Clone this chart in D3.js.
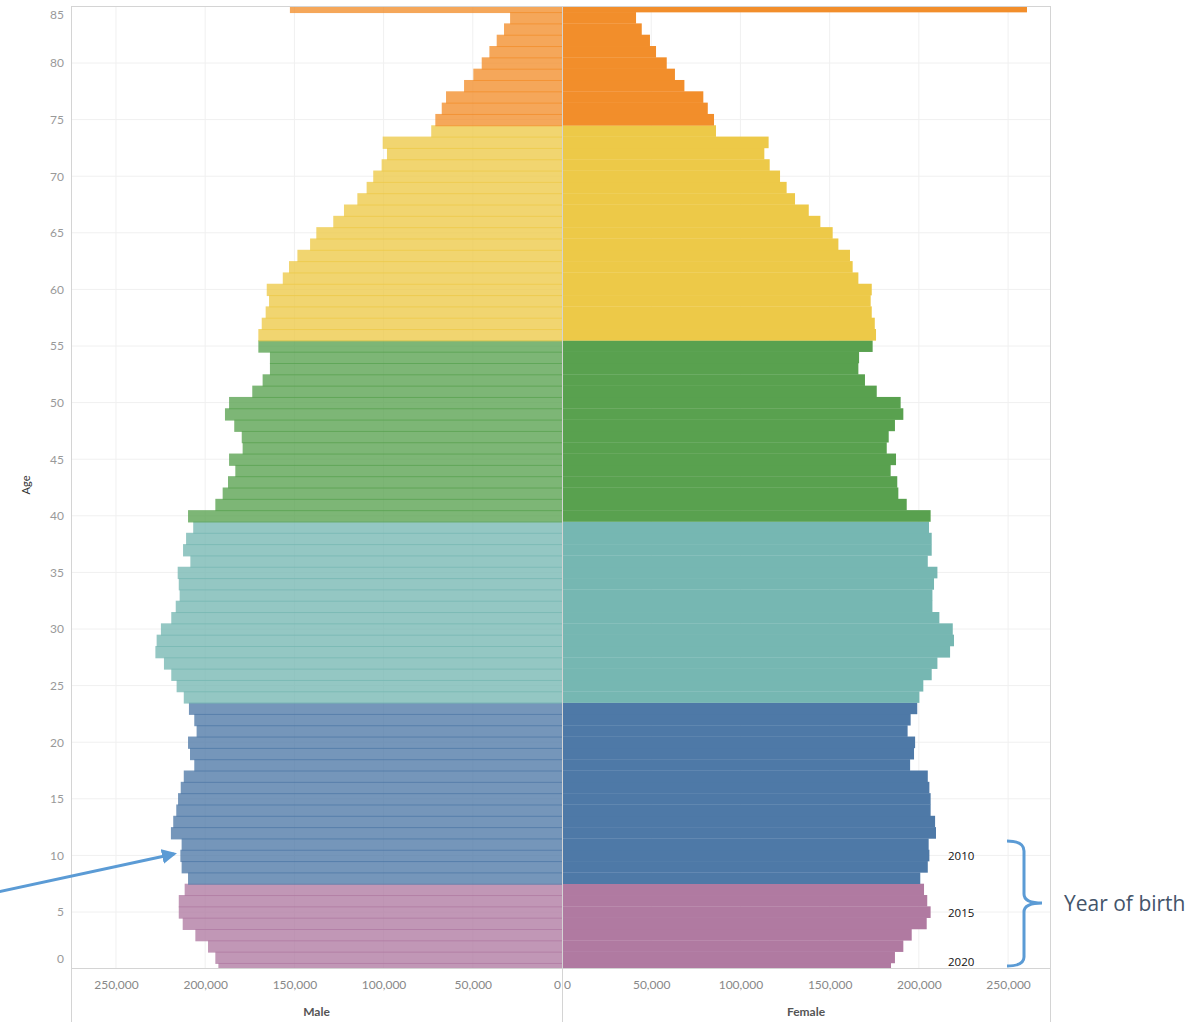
<!DOCTYPE html>
<html>
<head>
<meta charset="utf-8">
<script src="https://cdn.jsdelivr.net/npm/d3@7"></script>
<style>
  html, body { margin: 0; padding: 0; background: #fff; }
  svg { display: block; }
</style>
</head>
<body>
<svg id="chart" width="1201" height="1022"></svg>
<script>
// ---------- DATA ----------
const ages = d3.range(0, 86);
const maleValues = [
  192600,194300,198400,205500,212600,214800,214800,211500,209600,213200,
  213900,213200,219200,217900,216200,215200,213700,212000,206100,208500,
  209600,204800,206100,209100,212000,216000,219000,223100,227900,227200,
  224800,219000,216500,214300,214800,215400,208300,212400,210700,206700,
  209600,194300,190200,187200,183100,186600,179000,179500,183700,188900,
  186600,173600,167800,163700,163700,170200,170200,168300,166100,164200,
  165500,156500,153000,148300,141200,137700,128200,122200,114700,109500,
  105800,101100,98100,100500,73300,71000,67400,65000,54900,49700,
  45000,40700,36600,32500,29100,152500
];
const femaleValues = [
  184400,186600,191300,196000,204400,206600,204700,202900,200800,205000,
  205900,205500,209600,209100,206600,206600,205900,205000,195100,197300,
  197900,193700,195400,199100,200300,202500,207200,210400,217500,219700,
  219000,211500,207600,207600,208500,210400,205000,207200,207200,205700,
  206600,193200,188500,187900,184200,187200,182000,183100,186600,191300,
  189800,176400,169800,166100,166500,174100,176000,175300,173600,173000,
  173600,166100,162900,161400,154900,151700,144800,138300,130600,125900,
  122200,116400,113400,115800,86300,85200,81700,79200,68600,63300,
  58700,52700,49300,44700,41500,260600
];
// age groups (first age of each group) and their colours
const groupStarts = [0, 8, 24, 40, 56, 75];
const groupColors = ["#b07aa1", "#4e79a7", "#76b7b2", "#59a14f", "#edc948", "#f28e2b"];
const xTicks = [0, 50000, 100000, 150000, 200000, 250000];
const yTicks = d3.range(0, 86, 5);
const birthYearLabels = ["2010", "2015", "2020"];
const birthYearAges = [10, 5, 0];

// ---------- LAYOUT ----------
const svg = d3.select("#chart");
const pLeft = 71, pCenter = 562, pRight = 1050, pTop = 6.4, pBottom = 968.6, axisBottom = 1022;

const xMale = d3.scaleLinear().domain([0, 275200]).range([pCenter, pLeft]);
const xFemale = d3.scaleLinear().domain([0, 273500]).range([pCenter, pRight]);
const y = d3.scaleLinear().domain([0, 85]).range([pBottom, pTop]);
const band = Math.abs(y(0) - y(1));

const colorFor = a => groupColors[d3.bisectRight(groupStarts, a) - 1];

svg.append("defs").append("clipPath").attr("id", "plotClip")
  .append("rect").attr("x", pLeft).attr("y", pTop).attr("width", pRight - pLeft).attr("height", pBottom - pTop);

// gridlines
const grid = svg.append("g");
grid.selectAll(".hg").data(yTicks.filter(t => t > 0 && t < 85)).join("line")
  .attr("x1", pLeft).attr("x2", pRight).attr("y1", d => y(d)).attr("y2", d => y(d))
  .attr("stroke", "#f0f0f0").attr("stroke-width", 1);
grid.selectAll(".vgm").data(xTicks.filter(t => t > 0)).join("line")
  .attr("x1", d => xMale(d)).attr("x2", d => xMale(d)).attr("y1", pTop).attr("y2", pBottom)
  .attr("stroke", "#f0f0f0").attr("stroke-width", 1);
grid.selectAll(".vgf").data(xTicks.filter(t => t > 0)).join("line")
  .attr("x1", d => xFemale(d)).attr("x2", d => xFemale(d)).attr("y1", pTop).attr("y2", pBottom)
  .attr("stroke", "#f0f0f0").attr("stroke-width", 1);

// bars
const bars = svg.append("g").attr("clip-path", "url(#plotClip)");
bars.selectAll(".male").data(ages).join("rect")
  .attr("x", a => xMale(maleValues[a]))
  .attr("width", a => xMale(0) - xMale(maleValues[a]))
  .attr("y", a => y(a) - band / 2)
  .attr("height", band + 1)
  .attr("fill", a => colorFor(a))
  .attr("fill-opacity", 0.78);
bars.selectAll(".female").data(ages).join("rect")
  .attr("x", xFemale(0))
  .attr("width", a => xFemale(femaleValues[a]) - xFemale(0))
  .attr("y", a => y(a) - band / 2)
  .attr("height", band + 0.3)
  .attr("fill", a => colorFor(a));

// frame lines
const frame = svg.append("g").attr("stroke", "#d4d4d4").attr("stroke-width", 1).attr("shape-rendering", "crispEdges");
frame.append("line").attr("x1", pLeft).attr("x2", pRight).attr("y1", 6).attr("y2", 6);
frame.append("line").attr("x1", pLeft).attr("x2", pRight).attr("y1", 968.5).attr("y2", 968.5);
frame.append("line").attr("x1", pLeft).attr("x2", pLeft).attr("y1", 6).attr("y2", axisBottom);
frame.append("line").attr("x1", pRight).attr("x2", pRight).attr("y1", 6).attr("y2", axisBottom);
frame.append("line").attr("x1", pCenter).attr("x2", pCenter).attr("y1", 6).attr("y2", axisBottom);

// axes
const fmt = d3.format(",");
const axMale = svg.append("g").attr("transform", `translate(0,${pBottom})`)
  .call(d3.axisBottom(xMale).tickValues(xTicks).tickFormat(fmt).tickSize(0).tickPadding(12));
const axFemale = svg.append("g").attr("transform", `translate(0,${pBottom})`)
  .call(d3.axisBottom(xFemale).tickValues(xTicks).tickFormat(fmt).tickSize(0).tickPadding(12));
[axMale, axFemale].forEach(ax => {
  ax.select(".domain").remove();
  ax.selectAll("text").attr("fill", "#888").style("font-family", "Lato, 'Open Sans', sans-serif").style("font-size", "12px");
});
axMale.selectAll(".tick").filter(d => d === 0).select("text").attr("text-anchor", "end").attr("dx", "-1.5px");
axFemale.selectAll(".tick").filter(d => d === 0).select("text").attr("text-anchor", "start").attr("dx", "1.5px");

const axY = svg.append("g").attr("transform", `translate(${pLeft},0)`)
  .call(d3.axisLeft(y).tickValues(yTicks).tickSize(0).tickPadding(7));
axY.select(".domain").remove();
axY.selectAll("text").attr("fill", "#999").style("font-family", "Lato, 'Open Sans', sans-serif").style("font-size", "12px");
axY.selectAll(".tick").filter(d => d === 0).select("text").attr("dy", "-0.5em");
axY.selectAll(".tick").filter(d => d === 85).select("text").attr("dy", "1.05em");

// axis titles
const titleStyle = sel => sel.style("font-family", "Lato, 'Open Sans', sans-serif").style("font-size", "12px")
  .style("font-weight", "bold").attr("fill", "#555").attr("text-anchor", "middle");
svg.append("text").attr("x", (pLeft + pCenter) / 2).attr("y", 1016).text("Male").call(titleStyle);
svg.append("text").attr("x", (pCenter + pRight) / 2).attr("y", 1016).text("Female").call(titleStyle);
svg.append("text").attr("transform", "translate(30,485) rotate(-90)").text("Age")
  .style("font-family", "Lato, 'Open Sans', sans-serif").style("font-size", "11px").attr("fill", "#333").attr("text-anchor", "middle");

// annotations: birth year labels
svg.selectAll(".yr").data(birthYearLabels).join("text")
  .attr("x", 948)
  .attr("y", (d, i) => Math.min(y(birthYearAges[i]) + 5, 966))
  .text(d => d)
  .style("font-family", "'Open Sans', sans-serif").style("font-size", "11.5px").attr("fill", "#111");

// bracket
svg.append("path")
  .attr("d", "M1007,841 Q1024,841 1024,851 L1024,894 Q1024,903 1042,903 Q1024,903 1024,912 L1024,957 Q1024,966 1007,966")
  .attr("fill", "none").attr("stroke", "#5b9bd5").attr("stroke-width", 3);
svg.append("text").attr("x", 1064).attr("y", 911).text("Year of birth")
  .style("font-family", "'Open Sans', sans-serif").style("font-size", "21px").attr("fill", "#44546a");

// arrow
svg.append("defs").append("marker").attr("id", "arrowHead")
  .attr("viewBox", "0 0 10 10").attr("refX", 8).attr("refY", 5)
  .attr("markerWidth", 5).attr("markerHeight", 5).attr("orient", "auto")
  .append("path").attr("d", "M0,0 L10,5 L0,10 z").attr("fill", "#5b9bd5");
svg.append("line").attr("x1", -2).attr("y1", 892).attr("x2", 174).attr("y2", 854)
  .attr("stroke", "#5b9bd5").attr("stroke-width", 3).attr("marker-end", "url(#arrowHead)");
</script>
</body>
</html>
